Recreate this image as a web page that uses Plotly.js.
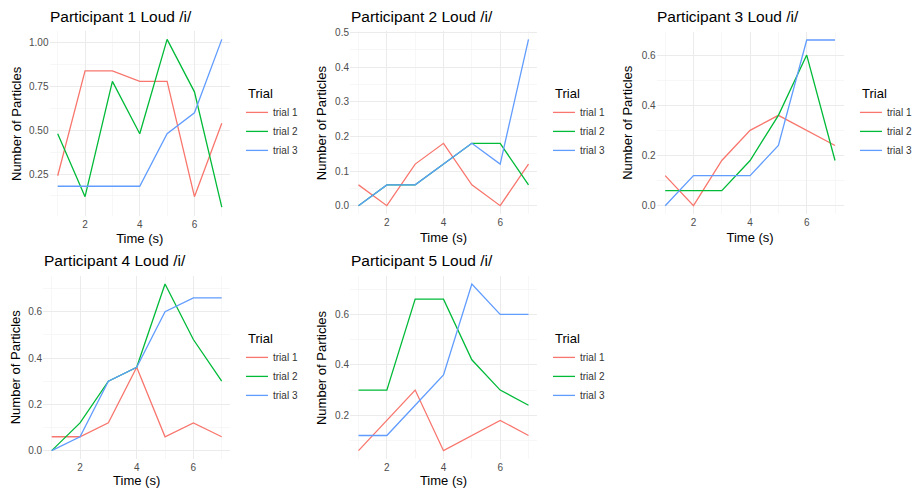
<!DOCTYPE html>
<html>
<head>
<meta charset="utf-8">
<script src="https://cdn.plot.ly/plotly-3.0.1.min.js"></script>
<style>html,body{margin:0;padding:0;background:#fff;overflow:hidden;}#chart{width:914px;height:488px;}</style>
</head>
<body>
<div id="chart"></div>
<script>
var time = [1, 2, 3, 4, 5, 6, 7];
var trialNames = ["trial 1", "trial 2", "trial 3"];
var panelTitles = ["Participant 1 Loud /i/", "Participant 2 Loud /i/", "Participant 3 Loud /i/", "Participant 4 Loud /i/", "Participant 5 Loud /i/"];
var xTitle = "Time (s)";
var yTitle = "Number of Particles";

var p1Trial1 = [0.24, 0.84, 0.84, 0.78, 0.78, 0.12, 0.54];
var p1Trial2 = [0.48, 0.12, 0.78, 0.48, 1.02, 0.72, 0.06];
var p1Trial3 = [0.18, 0.18, 0.18, 0.18, 0.48, 0.60, 1.02];

var p2Trial1 = [0.06, 0.00, 0.12, 0.18, 0.06, 0.00, 0.12];
var p2Trial2 = [0.00, 0.06, 0.06, 0.12, 0.18, 0.18, 0.06];
var p2Trial3 = [0.00, 0.06, 0.06, 0.12, 0.18, 0.12, 0.48];

var p3Trial1 = [0.12, 0.00, 0.18, 0.30, 0.36, 0.30, 0.24];
var p3Trial2 = [0.06, 0.06, 0.06, 0.18, 0.36, 0.60, 0.18];
var p3Trial3 = [0.00, 0.12, 0.12, 0.12, 0.24, 0.66, 0.66];

var p4Trial1 = [0.06, 0.06, 0.12, 0.36, 0.06, 0.12, 0.06];
var p4Trial2 = [0.00, 0.12, 0.30, 0.36, 0.72, 0.48, 0.30];
var p4Trial3 = [0.00, 0.06, 0.30, 0.36, 0.60, 0.66, 0.66];

var p5Trial1 = [0.06, 0.18, 0.30, 0.06, 0.12, 0.18, 0.12];
var p5Trial2 = [0.30, 0.30, 0.66, 0.66, 0.42, 0.30, 0.24];
var p5Trial3 = [0.12, 0.12, 0.24, 0.36, 0.72, 0.60, 0.60];

var panels = [
  [p1Trial1, p1Trial2, p1Trial3],
  [p2Trial1, p2Trial2, p2Trial3],
  [p3Trial1, p3Trial2, p3Trial3],
  [p4Trial1, p4Trial2, p4Trial3],
  [p5Trial1, p5Trial2, p5Trial3]
];

var colors = ["#F8766D", "#00BA38", "#619CFF"];
var W = 914, H = 488;
function px(v) { return v / W; }
function py(v) { return 1 - v / H; }

// plot-area geometry (pixels)
var geo = [
  {x0: 49.5, x1: 230, y0: 31, y1: 215.6, yr: [0.012, 1.068], dt: 0.25, fmt: ".2f", ytx: 16.7, lx: 246, ly: 81},
  {x0: 350, x1: 537, y0: 31, y1: 214, yr: [-0.024, 0.504], dt: 0.1, fmt: ".1f", ytx: 321.7, lx: 553, ly: 81},
  {x0: 656.7, x1: 843.5, y0: 31.7, y1: 214, yr: [-0.033, 0.693], dt: 0.2, fmt: ".1f", ytx: 628, lx: 860, ly: 81},
  {x0: 43.2, x1: 230.2, y0: 275.6, y1: 459, yr: [-0.036, 0.756], dt: 0.2, fmt: ".1f", ytx: 15, lx: 246, ly: 326},
  {x0: 350, x1: 537, y0: 275.7, y1: 459, yr: [0.027, 0.753], dt: 0.2, fmt: ".1f", ytx: 321.7, lx: 553, ly: 326}
];

var font = "Liberation Sans, Arial, sans-serif";
var traces = [];
var layout = {
  width: W, height: H,
  margin: {l: 0, r: 0, t: 0, b: 0, autoexpand: false},
  paper_bgcolor: "#ffffff",
  plot_bgcolor: "#ffffff",
  font: {family: font, color: "#000000"},
  annotations: []
};

panels.forEach(function (series, i) {
  var n = i + 1;
  var g = geo[i];
  var sfx = (n === 1 ? "" : String(n));
  series.forEach(function (vals, k) {
    traces.push({
      type: "scatter", mode: "lines",
      x: time, y: vals,
      name: trialNames[k],
      xaxis: "x" + sfx,
      yaxis: "y" + sfx,
      legend: "legend" + sfx,
      line: {color: colors[k], width: 1.3},
      hoverinfo: "x+y+name"
    });
  });
  layout["xaxis" + sfx] = {
    domain: [px(g.x0), px(g.x1)],
    anchor: "y" + sfx,
    range: [0.7, 7.3],
    tickvals: [2, 4, 6],
    ticktext: ["2", "4", "6"],
    showgrid: true, gridcolor: "#EBEBEB", gridwidth: 1,
    minor: {tickvals: [1, 3, 5, 7], showgrid: true, gridcolor: "#F2F2F2", gridwidth: 0.6, ticks: ""},
    zeroline: false, showline: false, ticks: "", ticklen: 0,
    ticklabelstandoff: 1,
    tickfont: {family: font, size: 10, color: "#4D4D4D"},
    title: {text: xTitle, font: {family: font, size: 13, color: "#000"}, standoff: 5},
    fixedrange: true
  };
  layout["yaxis" + sfx] = {
    domain: [py(g.y1), py(g.y0)],
    anchor: "x" + sfx,
    range: g.yr,
    tick0: 0, dtick: g.dt, tickformat: g.fmt,
    showgrid: true, gridcolor: "#EBEBEB", gridwidth: 1,
    minor: {tick0: g.dt / 2, dtick: g.dt, showgrid: true, gridcolor: "#F2F2F2", gridwidth: 0.6, ticks: ""},
    zeroline: false, showline: false, ticks: "", ticklen: 0,
    ticklabelstandoff: 0,
    tickfont: {family: font, size: 10, color: "#4D4D4D"},
    fixedrange: true
  };
  layout["legend" + sfx] = {
    x: px(g.lx), y: py(g.ly), xanchor: "left", yanchor: "top",
    title: {text: "Trial", font: {family: font, size: 13, color: "#000"}},
    font: {family: font, size: 10, color: "#333"},
    bgcolor: "rgba(0,0,0,0)",
    indentation: -13,
    tracegroupgap: 0
  };
  layout.annotations.push({
    text: panelTitles[i],
    xref: "paper", yref: "paper",
    x: px(g.x0 - 1.5), y: py(g.y0 - 15),
    xanchor: "left", yanchor: "middle",
    showarrow: false,
    font: {family: font, size: 15.5, color: "#000"}
  });
  layout.annotations.push({
    text: yTitle,
    xref: "paper", yref: "y" + sfx + " domain",
    x: px(g.ytx), y: 0.5,
    xanchor: "center", yanchor: "middle",
    textangle: -90,
    showarrow: false,
    font: {family: font, size: 13, color: "#000"}
  });
});

Plotly.newPlot("chart", traces, layout, {displayModeBar: false, staticPlot: true});
</script>
</body>
</html>
